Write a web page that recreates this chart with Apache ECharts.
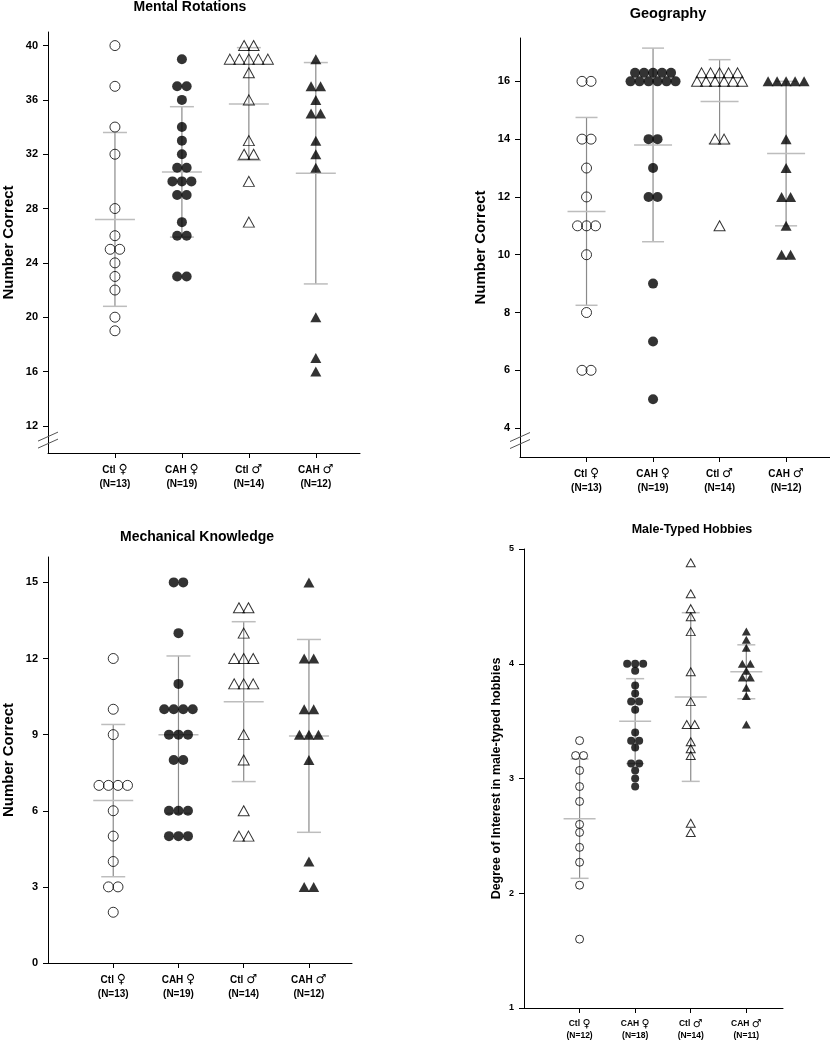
<!DOCTYPE html>
<html>
<head>
<meta charset="utf-8">
<script src="https://cdn.jsdelivr.net/npm/echarts@6/dist/echarts.min.js"></script>
<style>html,body{margin:0;padding:0;background:#fff}#c{width:830px;height:1050px}</style>
</head>
<body>
<div id="c"></div>
<script>
// ---------- DATA ----------
const groupNames = ['Ctl', 'CAH', 'Ctl', 'CAH'];
const groupSex = ['\u2640', '\u2640', '\u2642', '\u2642'];

// Mental Rotations
const mrTitle = 'Mental Rotations';
const mrN = [13, 19, 14, 12];
const mrTicks = [12, 16, 20, 24, 28, 32, 36, 40];
const mrCtlF = [40, 37, 34, 32, 28, 26, 25, 25, 24, 23, 22, 20, 19];
const mrCahF = [39, 37, 37, 36, 34, 33, 32, 31, 31, 30, 30, 30, 29, 29, 27, 26, 26, 23, 23];
const mrCtlM = [40, 40, 39, 39, 39, 39, 39, 38, 36, 33, 32, 32, 30, 27];
const mrCahM = [39, 37, 37, 36, 35, 35, 33, 32, 31, 20, 17, 16];
const mrMean = [27.2, 30.7, 35.7, 30.6];
const mrSD = [6.4, 4.8, 4.15, 8.15];

// Geography
const geoTitle = 'Geography';
const geoN = [13, 19, 14, 12];
const geoTicks = [4, 6, 8, 10, 12, 14, 16];
const geoCtlF = [16, 16, 14, 14, 13, 12, 11, 11, 11, 10, 8, 6, 6];
const geoCahF = [16, 16, 16, 16, 16, 16, 16, 16, 16, 16, 16, 14, 14, 13, 12, 12, 9, 7, 5];
const geoCtlM = [16, 16, 16, 16, 16, 16, 16, 16, 16, 16, 16, 14, 14, 11];
const geoCahM = [16, 16, 16, 16, 16, 14, 13, 12, 12, 11, 10, 10];
const geoMean = [11.5, 13.8, 15.3, 13.5];
const geoSD = [3.25, 3.35, 1.45, 2.5];

// Mechanical Knowledge
const mkTitle = 'Mechanical Knowledge';
const mkN = [13, 19, 14, 12];
const mkTicks = [0, 3, 6, 9, 12, 15];
const mkCtlF = [12, 10, 9, 7, 7, 7, 7, 6, 5, 4, 3, 3, 2];
const mkCahF = [15, 15, 13, 11, 10, 10, 10, 10, 9, 9, 9, 8, 8, 6, 6, 6, 5, 5, 5];
const mkCtlM = [14, 14, 13, 12, 12, 12, 11, 11, 11, 9, 8, 6, 5, 5];
const mkCahM = [15, 12, 12, 10, 10, 9, 9, 9, 8, 4, 3, 3];
const mkMean = [6.4, 9.0, 10.3, 8.95];
const mkSD = [3.0, 3.1, 3.15, 3.8];

// Male-Typed Hobbies
const mhTitle = 'Male-Typed Hobbies';
const mhN = [12, 18, 14, 11];
const mhTicks = [1, 2, 3, 4, 5];
const mhCtlF = [3.33, 3.20, 3.20, 3.07, 2.93, 2.80, 2.60, 2.53, 2.40, 2.27, 2.07, 1.60];
const mhCahF = [4.0, 4.0, 4.0, 3.94, 3.81, 3.74, 3.67, 3.67, 3.60, 3.40, 3.33, 3.33, 3.27, 3.13, 3.13, 3.07, 3.00, 2.93];
const mhCtlM = [4.88, 4.61, 4.48, 4.41, 4.28, 3.93, 3.67, 3.47, 3.47, 3.32, 3.26, 3.20, 2.61, 2.53];
const mhCahM = [4.28, 4.21, 4.14, 4.0, 4.0, 3.94, 3.88, 3.88, 3.79, 3.72, 3.47];
const mhMean = [2.65, 3.50, 3.71, 3.93];
const mhSD = [0.52, 0.37, 0.735, 0.235];

// ---------- LAYOUT / STYLE ----------
const FONT = '"Liberation Sans", Arial, Helvetica, sans-serif';
const panels = [
  { title: mrTitle, n: mrN, ticks: mrTicks, groups: [mrCtlF, mrCahF, mrCtlM, mrCahM], mean: mrMean, sd: mrSD,
    grid: { left: 48, top: 32, width: 312, height: 421 }, ymin: 10, ymax: 41,
    titlePos: { x: 190, y: 0, size: 14 }, yName: 'Number Correct', yNameSize: 15, yNameGap: 32,
    tickSize: 11, catSize: 10, catLH: 14, sym: 10, tri: [11, 10], spacing: 9.5, meanW: 20, capW: 12, brk: 10.95 },
  { title: geoTitle, n: geoN, ticks: geoTicks, groups: [geoCtlF, geoCahF, geoCtlM, geoCahM], mean: geoMean, sd: geoSD,
    grid: { left: 520, top: 38, width: 310, height: 419 }, ymin: 3, ymax: 17.5,
    titlePos: { x: 668, y: 6, size: 14.5 }, yName: 'Number Correct', yNameSize: 15, yNameGap: 32,
    tickSize: 11, catSize: 10, catLH: 14, sym: 10, tri: [11, 10], spacing: 9, meanW: 19, capW: 11, brk: 3.57 },
  { title: mkTitle, n: mkN, ticks: mkTicks, groups: [mkCtlF, mkCahF, mkCtlM, mkCahM], mean: mkMean, sd: mkSD,
    grid: { left: 46, top: 557, width: 306, height: 406 }, ymin: 0, ymax: 16,
    titlePos: { x: 197, y: 530, size: 14 }, yName: 'Number Correct', yNameSize: 15, yNameGap: 32,
    tickSize: 11, catSize: 10, catLH: 14, sym: 10, tri: [11, 10], spacing: 9.5, meanW: 20, capW: 12, brk: null },
  { title: mhTitle, n: mhN, ticks: mhTicks, groups: [mhCtlF, mhCahF, mhCtlM, mhCahM], mean: mhMean, sd: mhSD,
    grid: { left: 524, top: 549, width: 259, height: 459 }, ymin: 1, ymax: 5,
    titlePos: { x: 692, y: 523, size: 12.5 }, yName: 'Degree of Interest in male-typed hobbies', yNameSize: 12.5, yNameGap: 21,
    tickSize: 9, catSize: 8.5, catLH: 12, sym: 8, tri: [9, 8], spacing: 8, meanW: 16, capW: 9, brk: null }
];
const XMAX = 4.66;
const markerStyles = [
  { symbol: 'circle', itemStyle: { color: 'rgba(0,0,0,0)', borderColor: '#000', borderWidth: 1 } },
  { symbol: 'circle', itemStyle: { color: '#000', borderColor: '#000', borderWidth: 0 } },
  { symbol: 'triangle', itemStyle: { color: 'rgba(0,0,0,0)', borderColor: '#000', borderWidth: 1 } },
  { symbol: 'triangle', itemStyle: { color: '#000', borderColor: '#000', borderWidth: 0 } }
];

// side-by-side placement of tied values (pixel offsets)
function tieOffsets(values, spacing, rowGap) {
  const counts = {}, seen = {};
  values.forEach(v => { counts[v] = (counts[v] || 0) + 1; });
  return values.map(v => {
    const n = counts[v];
    const k = seen[v] = (seen[v] === undefined ? 0 : seen[v] + 1);
    if (n <= 7) return [(k - (n - 1) / 2) * spacing, 0];
    const nb = Math.ceil(n / 2);
    if (k < nb) return [(k - (nb - 1) / 2) * spacing, 0];
    const nt = n - nb, kt = k - nb;
    return [(kt - (nt - 1) / 2) * spacing, -rowGap];
  });
}

const option = { animation: false, backgroundColor: '#fff', title: [], grid: [], xAxis: [], yAxis: [], series: [] };

panels.forEach((p, i) => {
  option.title.push({
    text: p.title, left: p.titlePos.x, top: p.titlePos.y, textAlign: 'center', padding: 0,
    textStyle: { fontFamily: FONT, fontWeight: 'bold', fontSize: p.titlePos.size, color: '#000' }
  });
  option.grid.push(Object.assign({ containLabel: false }, p.grid));
  option.xAxis.push({
    type: 'value', gridIndex: i, min: 0, max: XMAX,
    axisLine: { onZero: false, lineStyle: { color: '#000', width: 1 } },
    axisTick: { show: true, length: 5, customValues: [1, 2, 3, 4], lineStyle: { color: '#000' } },
    splitLine: { show: false },
    axisLabel: {
      customValues: [1, 2, 3, 4], margin: 10, color: '#000', lineHeight: p.catLH,
      formatter: v => {
        const j = Math.round(v) - 1;
        return '{t|' + groupNames[j] + ' }{s|' + groupSex[j] + '}\n{t|(N=' + p.n[j] + ')}';
      },
      rich: {
        t: { fontFamily: FONT, fontWeight: 'bold', fontSize: p.catSize, color: '#000', lineHeight: p.catLH },
        s: { fontFamily: '"DejaVu Sans", sans-serif', fontWeight: 'normal', fontSize: p.catSize + 2.5, color: '#000', lineHeight: p.catLH }
      }
    }
  });
  option.yAxis.push({
    type: 'value', gridIndex: i, min: p.ymin, max: p.ymax,
    name: p.yName, nameLocation: 'middle', nameGap: p.yNameGap,
    nameTextStyle: { fontFamily: FONT, fontWeight: 'bold', fontSize: p.yNameSize, color: '#000' },
    axisLine: { onZero: false, lineStyle: { color: '#000', width: 1 } },
    axisTick: { show: true, length: 5, customValues: p.ticks, lineStyle: { color: '#000' } },
    splitLine: { show: false },
    axisLabel: { customValues: p.ticks, margin: 10, fontFamily: FONT, fontWeight: 'bold', fontSize: p.tickSize, color: '#000' }
  });
  // mean +/- SD bars
  option.series.push({
    type: 'custom', xAxisIndex: i, yAxisIndex: i, silent: true, z: 1,
    data: p.mean.map((m, j) => [j + 1, m, p.sd[j]]),
    renderItem: (params, api) => {
      const x = api.value(0), m = api.value(1), s = api.value(2);
      const pm = api.coord([x, m]), pt = api.coord([x, m + s]), pb = api.coord([x, m - s]);
      const light = { stroke: '#bdbdbd', lineWidth: 1.5 };
      return { type: 'group', children: [
        { type: 'line', shape: { x1: pm[0], y1: pt[1], x2: pm[0], y2: pb[1] }, style: { stroke: '#8a8a8a', lineWidth: 1.2 } },
        { type: 'line', shape: { x1: pm[0] - p.capW, y1: pt[1], x2: pm[0] + p.capW, y2: pt[1] }, style: light },
        { type: 'line', shape: { x1: pm[0] - p.capW, y1: pb[1], x2: pm[0] + p.capW, y2: pb[1] }, style: light },
        { type: 'line', shape: { x1: pm[0] - p.meanW, y1: pm[1], x2: pm[0] + p.meanW, y2: pm[1] }, style: light }
      ] };
    }
  });
  // points
  p.groups.forEach((vals, g) => {
    const offs = tieOffsets(vals, p.spacing, p.sym * 0.85);
    const ms = markerStyles[g];
    option.series.push({
      type: 'scatter', xAxisIndex: i, yAxisIndex: i, z: 3, silent: true,
      symbol: ms.symbol, symbolSize: ms.symbol === 'circle' ? p.sym : p.tri,
      itemStyle: ms.itemStyle,
      data: vals.map((v, k) => ({ value: [g + 1, v], symbolOffset: offs[k] }))
    });
  });
});

const chart = echarts.init(document.getElementById('c'), null, { renderer: 'canvas' });
chart.setOption(option);

// axis break marks
const graphics = [];
panels.forEach((p, i) => {
  if (p.brk === null) return;
  const c = chart.convertToPixel({ gridIndex: i }, [0, p.brk]);
  [-3.5, 3.5].forEach(dy => {
    graphics.push({ type: 'line', z: 10, silent: true,
      shape: { x1: c[0] - 10, y1: c[1] + dy + 4.5, x2: c[0] + 10, y2: c[1] + dy - 4.5 },
      style: { stroke: '#555', lineWidth: 1 } });
  });
});
chart.setOption({ graphic: graphics });
</script>
</body>
</html>
